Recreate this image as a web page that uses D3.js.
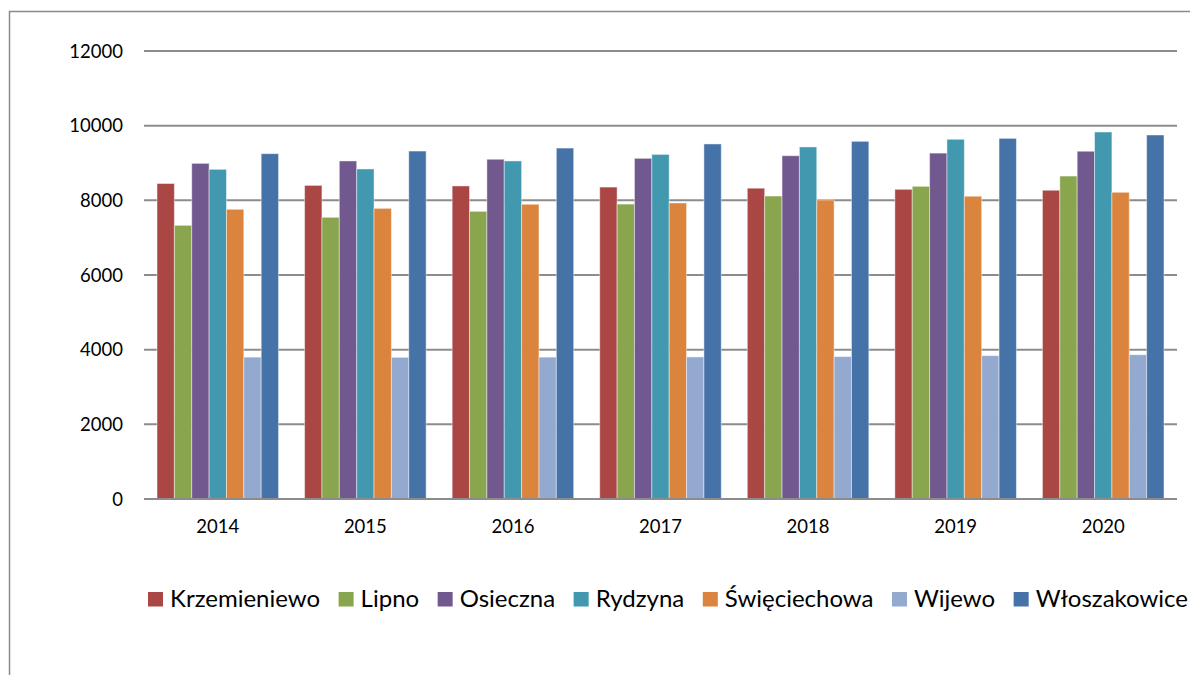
<!DOCTYPE html>
<html>
<head>
<meta charset="utf-8">
<script src="https://cdnjs.cloudflare.com/ajax/libs/d3/7.8.5/d3.min.js"></script>
<style>
  body { margin: 0; background: #fff; }
  svg { display: block; font-family: Lato, "Open Sans", sans-serif; }
</style>
</head>
<body>
<div id="chart"></div>
<script>
// data
var years = ["2014", "2015", "2016", "2017", "2018", "2019", "2020"];
var series = ["Krzemieniewo", "Lipno", "Osieczna", "Rydzyna", "Święciechowa", "Wijewo", "Włoszakowice"];
var colors = ["#AA4643", "#89A54E", "#71588F", "#4198AF", "#DB843D", "#93A9CF", "#4572A7"];

var krzemieniewo = [8450, 8400, 8385, 8355, 8325, 8295, 8270];
var lipno        = [7330, 7545, 7705, 7900, 8115, 8375, 8650];
var osieczna     = [8990, 9055, 9100, 9125, 9195, 9265, 9315];
var rydzyna      = [8830, 8840, 9055, 9230, 9430, 9635, 9830];
var swieciechowa = [7760, 7785, 7895, 7930, 8010, 8110, 8215];
var wijewo       = [3800, 3795, 3800, 3805, 3815, 3840, 3865];
var wloszakowice = [9250, 9320, 9400, 9510, 9580, 9660, 9750];

var yTicks = [0, 2000, 4000, 6000, 8000, 10000, 12000];

var values = [krzemieniewo, lipno, osieczna, rydzyna, swieciechowa, wijewo, wloszakowice];

var W = 1190, H = 675;
var svg = d3.select("#chart").append("svg")
  .attr("width", W)
  .attr("height", H);

// outer chart frame (runs off the right and bottom edge)
svg.append("rect")
  .attr("x", 9.5).attr("y", 11.5)
  .attr("width", W + 20).attr("height", H + 20)
  .attr("fill", "none")
  .attr("stroke", "#8a8a8a")
  .attr("stroke-width", 1.5);

var plotL = 144, plotR = 1177, plotT = 51, plotB = 499;

var x0 = d3.scaleBand().domain(years).range([plotL, plotR]);
var gap = x0.bandwidth() * 1.5 / 8.5;
var x1 = d3.scaleBand().domain(series).range([gap / 2, x0.bandwidth() - gap / 2]);
var y = d3.scaleLinear().domain([0, 12000]).range([plotB, plotT]);

// gridlines
svg.append("g").selectAll("line")
  .data(yTicks)
  .enter().append("line")
  .attr("x1", plotL).attr("x2", plotR)
  .attr("y1", function(d) { return y(d); })
  .attr("y2", function(d) { return y(d); })
  .attr("stroke", "#8c8c8c")
  .attr("stroke-width", 2);

// y labels
svg.append("g").selectAll("text")
  .data(yTicks)
  .enter().append("text")
  .attr("x", 123)
  .attr("y", function(d) { return y(d); })
  .attr("dy", "0.36em")
  .attr("text-anchor", "end")
  .attr("font-size", 18.5)
  .attr("fill", "#000")
  .text(function(d) { return d; });

// bars
var groups = svg.append("g").selectAll("g")
  .data(years)
  .enter().append("g")
  .attr("transform", function(d) { return "translate(" + x0(d) + ",0)"; });

groups.selectAll("rect")
  .data(function(d, i) {
    return series.map(function(s, j) { return { s: s, v: values[j][i], c: colors[j] }; });
  })
  .enter().append("rect")
  .attr("x", function(d) { return x1(d.s); })
  .attr("width", x1.bandwidth())
  .attr("y", function(d) { return y(d.v); })
  .attr("height", function(d) { return y(0) - y(d.v); })
  .attr("fill", function(d) { return d.c; })
  .attr("stroke", "rgba(255,255,255,0.45)")
  .attr("stroke-width", 1);

// baseline
svg.append("line")
  .attr("x1", plotL).attr("x2", plotR)
  .attr("y1", plotB).attr("y2", plotB)
  .attr("stroke", "#8c8c8c")
  .attr("stroke-width", 2);

// x labels
svg.append("g").selectAll("text")
  .data(years)
  .enter().append("text")
  .attr("x", function(d) { return x0(d) + x0.bandwidth() / 2; })
  .attr("y", 533)
  .attr("text-anchor", "middle")
  .attr("font-size", 18.5)
  .attr("fill", "#000")
  .text(function(d) { return d; });

// legend
var legend = svg.append("g");
var lx = 148;
series.forEach(function(s, i) {
  legend.append("rect")
    .attr("x", lx).attr("y", 592)
    .attr("width", 15).attr("height", 14.5)
    .attr("fill", colors[i]);
  var t = legend.append("text")
    .attr("x", lx + 22)
    .attr("y", 606.5)
    .attr("font-size", 24)
    .attr("fill", "#000")
    .text(s);
  lx += 22 + t.node().getComputedTextLength() + 18.5;
});
</script>
</body>
</html>
